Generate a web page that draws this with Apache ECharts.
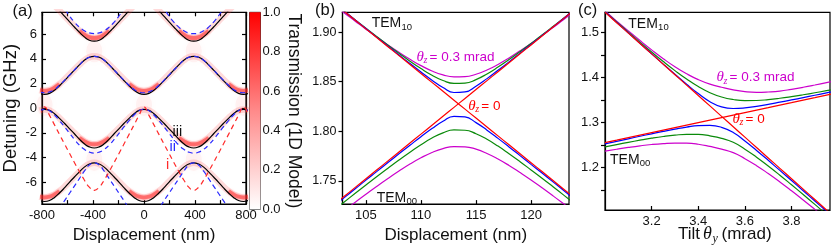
<!DOCTYPE html>
<html><head><meta charset="utf-8">
<script src="https://cdn.jsdelivr.net/npm/echarts@6.0.0/dist/echarts.min.js"></script>
<style>html,body{margin:0;padding:0;background:#fff;}#chart{width:831px;height:249px;}</style>
</head><body><div id="chart"></div>
<script>
// ---------- Panel (a): displacement grid (nm) ----------
const dispX = [-819,-780,-741,-702,-663,-624,-585,-546,-507,-468,-429,-390,-351,-312,-273,-234,-195,-156,-117,-78,-39,0,39,78,117,156,195,234,273,312,351,390,429,468,507,546,585,624,663,702,741,780,819];
// model iii (black solid), four bands
const blackBand1 = [8.6,8.75,8.6,8.3,7.9,7.45,7.0,6.57,6.15,5.77,5.5,5.42,5.5,5.77,6.15,6.57,7.0,7.45,7.9,8.3,8.6,8.75,8.6,8.3,7.9,7.45,7.0,6.57,6.15,5.77,5.5,5.42,5.5,5.77,6.15,6.57,7.0,7.45,7.9,8.3,8.6,8.75,8.6];
const blackBand2 = [1.2,1.12,1.2,1.45,1.82,2.22,2.65,3.08,3.5,3.88,4.12,4.2,4.12,3.88,3.5,3.08,2.65,2.22,1.82,1.45,1.2,1.12,1.2,1.45,1.82,2.22,2.65,3.08,3.5,3.88,4.12,4.2,4.12,3.88,3.5,3.08,2.65,2.22,1.82,1.45,1.2,1.12,1.2];
const blackBand3 = [-0.18,-0.1,-0.18,-0.45,-0.82,-1.22,-1.65,-2.07,-2.5,-2.88,-3.13,-3.22,-3.13,-2.88,-2.5,-2.07,-1.65,-1.22,-0.82,-0.45,-0.18,-0.1,-0.18,-0.45,-0.82,-1.22,-1.65,-2.07,-2.5,-2.88,-3.13,-3.22,-3.13,-2.88,-2.5,-2.07,-1.65,-1.22,-0.82,-0.45,-0.18,-0.1,-0.18];
const blackBand4 = [-7.47,-7.55,-7.47,-7.22,-6.86,-6.45,-6.0,-5.57,-5.15,-4.77,-4.52,-4.42,-4.52,-4.77,-5.15,-5.57,-6.0,-6.45,-6.86,-7.22,-7.47,-7.55,-7.47,-7.22,-6.86,-6.45,-6.0,-5.57,-5.15,-4.77,-4.52,-4.42,-4.52,-4.77,-5.15,-5.57,-6.0,-6.45,-6.86,-7.22,-7.47,-7.55,-7.47];
// transmission ridge (1D model, red glow)
const ridgeBand1 = [8.6,8.75,8.6,8.3,7.9,7.47,7.05,6.65,6.27,5.95,5.74,5.68,5.74,5.95,6.27,6.65,7.05,7.47,7.9,8.3,8.6,8.75,8.6,8.3,7.9,7.47,7.05,6.65,6.27,5.95,5.74,5.68,5.74,5.95,6.27,6.65,7.05,7.47,7.9,8.3,8.6,8.75,8.6];
const ridgeBand2 = [1.46,1.4,1.46,1.65,1.95,2.32,2.72,3.12,3.52,3.88,4.12,4.2,4.12,3.88,3.52,3.12,2.72,2.32,1.95,1.65,1.46,1.4,1.46,1.65,1.95,2.32,2.72,3.12,3.52,3.88,4.12,4.2,4.12,3.88,3.52,3.12,2.72,2.32,1.95,1.65,1.46,1.4,1.46];
const ridgeBand3 = [-0.18,-0.1,-0.18,-0.45,-0.8,-1.2,-1.6,-2.0,-2.38,-2.68,-2.86,-2.92,-2.86,-2.68,-2.38,-2.0,-1.6,-1.2,-0.8,-0.45,-0.18,-0.1,-0.18,-0.45,-0.8,-1.2,-1.6,-2.0,-2.38,-2.68,-2.86,-2.92,-2.86,-2.68,-2.38,-2.0,-1.6,-1.2,-0.8,-0.45,-0.18,-0.1,-0.18];
const ridgeBand4 = [-7.16,-7.22,-7.16,-6.98,-6.7,-6.36,-5.95,-5.55,-5.15,-4.77,-4.52,-4.42,-4.52,-4.77,-5.15,-5.55,-5.95,-6.36,-6.7,-6.98,-7.16,-7.22,-7.16,-6.98,-6.7,-6.36,-5.95,-5.55,-5.15,-4.77,-4.52,-4.42,-4.52,-4.77,-5.15,-5.55,-5.95,-6.36,-6.7,-6.98,-7.16,-7.22,-7.16];
// ridge value below which the transmission is strong (band bottoms)
const ridgeStrongBelow = [6.35, 2.0, -2.35, -6.55];
// faint transmission halo above the band tops
const haloX = [-390, 390, -780, 0, 780, -390, 390];
const haloY = [4.6, 4.6, 0.25, 0.25, 0.25, -4.2, -4.2];
// model ii (blue dashed)
const blueBand1 = [10.0,10.3,10.0,9.5,8.8,8.1,7.48,6.97,6.56,6.27,6.09,6.03,6.09,6.27,6.56,6.97,7.48,8.1,8.8,9.5,10.0,10.3,10.0,9.5,8.8,8.1,7.48,6.97,6.56,6.27,6.09,6.03,6.09,6.27,6.56,6.97,7.48,8.1,8.8,9.5,10.0,10.3,10.0];
const blueBand2 = [1.32,1.25,1.32,1.52,1.86,2.25,2.67,3.09,3.5,3.88,4.12,4.2,4.12,3.88,3.5,3.09,2.67,2.25,1.86,1.52,1.32,1.25,1.32,1.52,1.86,2.25,2.67,3.09,3.5,3.88,4.12,4.2,4.12,3.88,3.5,3.09,2.67,2.25,1.86,1.52,1.32,1.25,1.32];
const blueBand3 = [-0.2,-0.1,-0.2,-0.55,-1.0,-1.5,-2.02,-2.52,-2.98,-3.33,-3.55,-3.63,-3.55,-3.33,-2.98,-2.52,-2.02,-1.5,-1.0,-0.55,-0.2,-0.1,-0.2,-0.55,-1.0,-1.5,-2.02,-2.52,-2.98,-3.33,-3.55,-3.63,-3.55,-3.33,-2.98,-2.52,-2.02,-1.5,-1.0,-0.55,-0.2,-0.1,-0.2];
const blueBand4 = [-9.0,-9.2,-9.0,-8.6,-8.1,-7.5,-6.9,-6.3,-5.7,-5.1,-4.6,-4.42,-4.6,-5.1,-5.7,-6.3,-6.9,-7.5,-8.1,-8.6,-9.0,-9.2,-9.0,-8.6,-8.1,-7.5,-6.9,-6.3,-5.7,-5.1,-4.6,-4.42,-4.6,-5.1,-5.7,-6.3,-6.9,-7.5,-8.1,-8.6,-9.0,-9.2,-9.0];
// model i (red dashed)
const redDashed = [-0.58,0.1,-0.58,-1.35,-2.12,-2.88,-3.64,-4.39,-5.12,-5.81,-6.39,-6.65,-6.39,-5.81,-5.12,-4.39,-3.64,-2.88,-2.12,-1.35,-0.58,0.1,-0.58,-1.35,-2.12,-2.88,-3.64,-4.39,-5.12,-5.81,-6.39,-6.65,-6.39,-5.81,-5.12,-4.39,-3.64,-2.88,-2.12,-1.35,-0.58,0.1,-0.58];
const aXLabels = [-800,-400,0,400,800];
const aXTicks = [-800,-600,-400,-200,0,200,400,600,800];
const aYLabels = [-6,-4,-2,0,2,4,6];
const cbarLabels = [0,0.2,0.4,0.6,0.8,1.0];

// ---------- Panel (b) ----------
const bX = [102,103,104,105,106,107,108,109,110,111,112,113,114,115,116,117,118,119,120,121,122,123,124,125];
const bRedTEM10 = [1.9303,1.9213,1.9123,1.9033,1.8943,1.8853,1.8763,1.8673,1.8583,1.8493,1.8403,1.8313,1.8223,1.8133,1.8043,1.7953,1.7863,1.7773,1.7683,1.7593,1.7503,1.7413,1.7323,1.7233];
const bRedTEM00 = [1.7251,1.7341,1.7431,1.7521,1.7611,1.7701,1.7791,1.7881,1.7971,1.8061,1.8151,1.8241,1.8331,1.8421,1.8511,1.8601,1.8691,1.8781,1.8871,1.8961,1.9051,1.9141,1.9231,1.9321];
const bBlueUp = [1.9303,1.9214,1.9125,1.9036,1.8947,1.8858,1.8770,1.8683,1.8598,1.8515,1.8441,1.8391,1.8397,1.8455,1.8531,1.8615,1.8700,1.8788,1.8876,1.8965,1.9053,1.9143,1.9232,1.9321];
const bBlueDn = [1.7239,1.7328,1.7417,1.7507,1.7595,1.7684,1.7772,1.7859,1.7945,1.8027,1.8101,1.8151,1.8145,1.8087,1.8011,1.7928,1.7842,1.7754,1.7666,1.7578,1.7489,1.7400,1.7310,1.7221];
const bGreenUp = [1.9300,1.9212,1.9125,1.9039,1.8953,1.8869,1.8787,1.8707,1.8632,1.8565,1.8512,1.8483,1.8486,1.8521,1.8578,1.8647,1.8723,1.8803,1.8886,1.8970,1.9056,1.9143,1.9230,1.9318];
const bGreenDn = [1.7196,1.7284,1.7371,1.7457,1.7543,1.7627,1.7710,1.7789,1.7864,1.7931,1.7984,1.8013,1.8010,1.7975,1.7919,1.7850,1.7773,1.7693,1.7610,1.7526,1.7440,1.7353,1.7266,1.7179];
const bMagUp = [1.9281,1.9196,1.9113,1.9030,1.8949,1.8871,1.8796,1.8726,1.8662,1.8608,1.8569,1.8549,1.8551,1.8575,1.8618,1.8674,1.8739,1.8811,1.8886,1.8965,1.9047,1.9129,1.9213,1.9298];
const bMagDn = [1.7113,1.7198,1.7282,1.7364,1.7445,1.7523,1.7598,1.7669,1.7732,1.7786,1.7825,1.7845,1.7843,1.7819,1.7776,1.7720,1.7655,1.7583,1.7508,1.7429,1.7348,1.7265,1.7181,1.7096];
const bXLabels = [105,110,115,120];
const bYLabels = [1.75,1.80,1.85,1.90];

// ---------- Panel (c) ----------
const cX = [3.00,3.05,3.10,3.15,3.20,3.25,3.30,3.35,3.40,3.45,3.50,3.55,3.60,3.65,3.70,3.75,3.80,3.85,3.90,3.95,4.00];
const cRedTEM10 = [1.545,1.5219,1.4988,1.4757,1.4526,1.4295,1.4064,1.3833,1.3602,1.3371,1.314,1.2909,1.2678,1.2447,1.2216,1.1985,1.1754,1.1523,1.1292,1.1061,1.083];
const cRedTEM00 = [1.2556,1.2612,1.2667,1.2723,1.2778,1.2834,1.2889,1.2945,1.3,1.3056,1.3111,1.3167,1.3222,1.3278,1.3333,1.3389,1.3444,1.35,1.3555,1.3611,1.3666];
const cBlueUp = [1.5459,1.5226,1.4993,1.4761,1.4530,1.4300,1.4074,1.3853,1.3645,1.3465,1.3350,1.3314,1.3328,1.3363,1.3406,1.3454,1.3504,1.3555,1.3608,1.3661,1.3714];
const cBlueDn = [1.2527,1.2584,1.2641,1.2697,1.2752,1.2806,1.2856,1.2901,1.2933,1.2937,1.2896,1.2782,1.2592,1.2382,1.2163,1.1940,1.1714,1.1488,1.1259,1.1031,1.0802];
const cGreenUp = [1.5465,1.5237,1.5010,1.4787,1.4568,1.4356,1.4155,1.3968,1.3800,1.3665,1.3570,1.3513,1.3489,1.3492,1.3511,1.3541,1.3578,1.3619,1.3663,1.3710,1.3758];
const cGreenDn = [1.2462,1.2513,1.2563,1.2610,1.2654,1.2692,1.2722,1.2740,1.2738,1.2706,1.2652,1.2563,1.2411,1.2233,1.2038,1.1833,1.1620,1.1404,1.1184,1.0962,1.0738];
const cMagUp = [1.5480,1.5255,1.5035,1.4822,1.4616,1.4420,1.4240,1.4085,1.3955,1.3855,1.3785,1.3727,1.3688,1.3672,1.3680,1.3700,1.3740,1.3785,1.3835,1.3888,1.3942];
const cMagDn = [1.2366,1.2409,1.2449,1.2485,1.2515,1.2536,1.2547,1.2544,1.2520,1.2471,1.2412,1.2333,1.2200,1.2045,1.1870,1.1684,1.1487,1.1283,1.1074,1.0861,1.0645];
const cXLabels = [3.2,3.4,3.6,3.8];
const cYLabels = [1.2,1.3,1.4,1.5];
const cYTicks = [1.15,1.2,1.25,1.3,1.35,1.4,1.45,1.5];

// ---------- build ----------
const FONT = 'Liberation Sans';
const TXT = '#111';
const pairs = (xs, ys) => xs.map((x, i) => [x, ys[i]]);
const AX = {color:'#000', width:1.2};

function lineSeries(gi, xs, ys, color, width, type, z, extra) {
  return Object.assign({
    type:'line', xAxisIndex:gi, yAxisIndex:gi, data:pairs(xs, ys),
    showSymbol:false, symbol:'none', smooth:true, clip:true, silent:true, z:z,
    lineStyle:{color:color, width:width, type:type || 'solid'}
  }, extra || {});
}
function paleRidge(ys) {
  return lineSeries(0, dispX, ys, 'rgba(255,70,70,0.2)', 6.5, 'solid', 1);
}
function strongRidge(ys, thr) {
  const s = lineSeries(0, dispX, ys, 'rgba(255,40,40,0.5)', 4, 'solid', 2,
    {lineStyle:{color:'rgba(255,40,40,0.5)', width:4, shadowBlur:3, shadowColor:'rgba(255,0,0,0.5)'}});
  s.data = s.data.map(p => p[1] <= thr ? p : [p[0], null]);
  s.connectNulls = false;
  return s;
}

const series = [
  {type:'scatter', xAxisIndex:0, yAxisIndex:0, data:pairs(haloX, haloY), symbolSize:[16, 22], silent:true, z:0,
   itemStyle:{color:'rgba(255,120,120,0.10)', shadowBlur:10, shadowColor:'rgba(255,90,90,0.35)'}},
  paleRidge(ridgeBand1), paleRidge(ridgeBand2), paleRidge(ridgeBand3), paleRidge(ridgeBand4),
  strongRidge(ridgeBand1, ridgeStrongBelow[0]), strongRidge(ridgeBand2, ridgeStrongBelow[1]),
  strongRidge(ridgeBand3, ridgeStrongBelow[2]), strongRidge(ridgeBand4, ridgeStrongBelow[3]),
  lineSeries(0, dispX, blackBand1, '#000', 1.2, 'solid', 3),
  lineSeries(0, dispX, blackBand2, '#000', 1.2, 'solid', 3),
  lineSeries(0, dispX, blackBand3, '#000', 1.2, 'solid', 3),
  lineSeries(0, dispX, blackBand4, '#000', 1.2, 'solid', 3),
  lineSeries(0, dispX, blueBand1, '#2a2aff', 1.2, [5,3.5], 4),
  lineSeries(0, dispX, blueBand2, '#2a2aff', 1.2, [5,3.5], 4),
  lineSeries(0, dispX, blueBand3, '#2a2aff', 1.2, [5,3.5], 4),
  lineSeries(0, dispX, blueBand4, '#2a2aff', 1.2, [5,3.5], 4),
  lineSeries(0, dispX, redDashed, '#ff2a2a', 1.2, [5,4], 4),
  {type:'bar', xAxisIndex:2, yAxisIndex:2, data:[1], barWidth:'100%', silent:true,
   itemStyle:{color:new echarts.graphic.LinearGradient(0,0,0,1,[{offset:0,color:'#ff0000'},{offset:0.5,color:'#ff8a8a'},{offset:1,color:'#ffffff'}])}},
  lineSeries(3, bX, bMagUp, '#cc00cc', 1.2), lineSeries(3, bX, bMagDn, '#cc00cc', 1.2),
  lineSeries(3, bX, bGreenUp, '#0a8a0a', 1.2), lineSeries(3, bX, bGreenDn, '#0a8a0a', 1.2),
  lineSeries(3, bX, bBlueUp, '#0000ff', 1.2), lineSeries(3, bX, bBlueDn, '#0000ff', 1.2),
  lineSeries(3, bX, bRedTEM10, '#ff0000', 1.2), lineSeries(3, bX, bRedTEM00, '#ff0000', 1.2),
  lineSeries(4, cX, cMagUp, '#cc00cc', 1.2), lineSeries(4, cX, cMagDn, '#cc00cc', 1.2),
  lineSeries(4, cX, cGreenUp, '#0a8a0a', 1.2), lineSeries(4, cX, cGreenDn, '#0a8a0a', 1.2),
  lineSeries(4, cX, cBlueUp, '#0000ff', 1.2), lineSeries(4, cX, cBlueDn, '#0000ff', 1.2),
  lineSeries(4, cX, cRedTEM10, '#ff0000', 1.2), lineSeries(4, cX, cRedTEM00, '#ff0000', 1.2)
];

const lbl = (vals, size, margin, fmt) => ({show:true, customValues:vals, fontSize:size, margin:margin, color:TXT, fontFamily:FONT, formatter:fmt});
const xAxis = [
  {gridIndex:0, type:'value', min:-800, max:800, position:'bottom',
   axisLine:{show:true, onZero:false, lineStyle:AX},
   axisTick:{show:true, inside:true, length:4, customValues:aXTicks, lineStyle:AX},
   axisLabel:lbl(aXLabels, 13, 5), splitLine:{show:false},
   name:'Displacement (nm)', nameLocation:'middle', nameGap:18,
   nameTextStyle:{fontSize:17, color:TXT, fontFamily:FONT}},
  {gridIndex:0, type:'value', min:-800, max:800, position:'top',
   axisLine:{show:true, onZero:false, lineStyle:AX},
   axisTick:{show:true, inside:true, length:4, customValues:aXTicks, lineStyle:AX},
   axisLabel:{show:false}, splitLine:{show:false}},
  {gridIndex:1, type:'category', data:['T'], show:false},
  {gridIndex:2, type:'value', min:102.87, max:123.45, position:'bottom',
   axisLine:{show:true, onZero:false, lineStyle:AX},
   axisTick:{show:true, inside:true, length:4, customValues:bXLabels, lineStyle:AX},
   axisLabel:lbl(bXLabels, 13, 5), splitLine:{show:false},
   name:'Displacement (nm)', nameLocation:'middle', nameGap:18,
   nameTextStyle:{fontSize:17, color:TXT, fontFamily:FONT}},
  {gridIndex:3, type:'value', min:3.0, max:3.965, position:'bottom',
   axisLine:{show:true, onZero:false, lineStyle:AX},
   axisTick:{show:true, inside:true, length:4, customValues:cXLabels, lineStyle:AX},
   axisLabel:lbl(cXLabels, 13, 5, v => Number(v).toFixed(1)), splitLine:{show:false}}
];
const yAxis = [
  {gridIndex:0, type:'value', min:-7.76, max:7.76, position:'left',
   axisLine:{show:true, onZero:false, lineStyle:AX},
   axisTick:{show:true, inside:true, length:4, customValues:aYLabels, lineStyle:AX},
   axisLabel:lbl(aYLabels, 13, 5), splitLine:{show:false},
   name:'Detuning (GHz)', nameLocation:'middle', nameGap:22,
   nameTextStyle:{fontSize:18.5, color:TXT, fontFamily:FONT}},
  {gridIndex:0, type:'value', min:-7.76, max:7.76, position:'right',
   axisLine:{show:true, onZero:false, lineStyle:AX},
   axisTick:{show:true, inside:true, length:4, customValues:aYLabels, lineStyle:AX},
   axisLabel:{show:false}, splitLine:{show:false}},
  {gridIndex:1, type:'value', min:0, max:1, position:'right',
   axisLine:{show:false}, axisTick:{show:false},
   axisLabel:lbl(cbarLabels, 13, 2, v => Number(v).toFixed(1)), splitLine:{show:false},
   name:'Transmission (1D Model)', nameLocation:'middle', nameRotate:-90, nameGap:22,
   nameTextStyle:{fontSize:17.5, color:TXT, fontFamily:FONT}},
  {gridIndex:2, type:'value', min:1.7265, max:1.92, position:'left',
   axisLine:{show:true, onZero:false, lineStyle:AX},
   axisTick:{show:true, inside:false, length:4, customValues:bYLabels, lineStyle:AX},
   axisLabel:lbl(bYLabels, 12.5, 6, v => Number(v).toFixed(2)), splitLine:{show:false}},
  {gridIndex:3, type:'value', min:1.106, max:1.545, position:'left',
   axisLine:{show:true, onZero:false, lineStyle:AX},
   axisTick:{show:true, inside:false, length:4, customValues:cYTicks, lineStyle:AX},
   axisLabel:lbl(cYLabels, 13, 6, v => Number(v).toFixed(1)), splitLine:{show:false}}
];
const grid = [
  {left:41, top:12.3, width:205, height:197.4, show:true, borderColor:'#000', borderWidth:1.2},
  {left:249.5, top:12.3, width:11, height:197, show:true, borderColor:'#333', borderWidth:1},
  {left:342.5, top:12.3, width:226.5, height:197.7, show:true, borderColor:'#000', borderWidth:1.2},
  {left:605, top:12.3, width:225, height:197.7, show:true, borderColor:'#000', borderWidth:1.2}
];

function t(x, y, text, size, color, extra) {
  return {type:'text', x:x, y:y, z:200, silent:true,
    style:Object.assign({text:text, fill:color || TXT, fontSize:size, fontFamily:FONT, verticalAlign:'middle', align:'left'}, extra || {})};
}
const serifIt = {fontFamily:'Liberation Serif', fontStyle:'italic'};
function thetaLabel(x, y, rest, color) {
  return [t(x, y, 'θ', 15, color, serifIt), t(x + 7, y + 3.5, 'z', 10, color, serifIt), t(x + 13, y, rest, 13.5, color)];
}
function tem(x, y, sub) { return [t(x, y, 'TEM', 14, TXT), t(x + 29.8, y + 3.5, sub, 9.5, TXT)]; }

const graphic = [].concat(
  [t(12.5, 11, '(a)', 16.5), t(315, 10, '(b)', 16.5), t(578, 10, '(c)', 16.5)],
  [t(172.5, 131.5, 'iii', 14.5, '#111'), t(169.5, 147, 'ii', 14.5, '#2a2aff'), t(166, 165, 'i', 14.5, '#ff2a2a')],
  tem(371.7, 23.5, '10'), tem(376.7, 198, '00'), tem(628.3, 24, '10'), tem(610, 160, '00'),
  thetaLabel(416.5, 57, '= 0.3 mrad', '#cc00cc'), thetaLabel(468.3, 106, '= 0', '#ff0000'),
  thetaLabel(716.5, 77.5, '= 0.3 mrad', '#cc00cc'), thetaLabel(732.5, 119, '= 0', '#ff0000'),
  [t(678, 234, 'Tilt', 17), t(703, 234, 'θ', 18, TXT, serifIt), t(712.5, 238.5, 'y', 12, TXT, serifIt), t(721.5, 234, '(mrad)', 17)]
);

const chart = echarts.init(document.getElementById('chart'), null, {renderer:'canvas'});
chart.setOption({animation:false, backgroundColor:'#fff', grid:grid, xAxis:xAxis, yAxis:yAxis, series:series, graphic:graphic});
</script></body></html>
